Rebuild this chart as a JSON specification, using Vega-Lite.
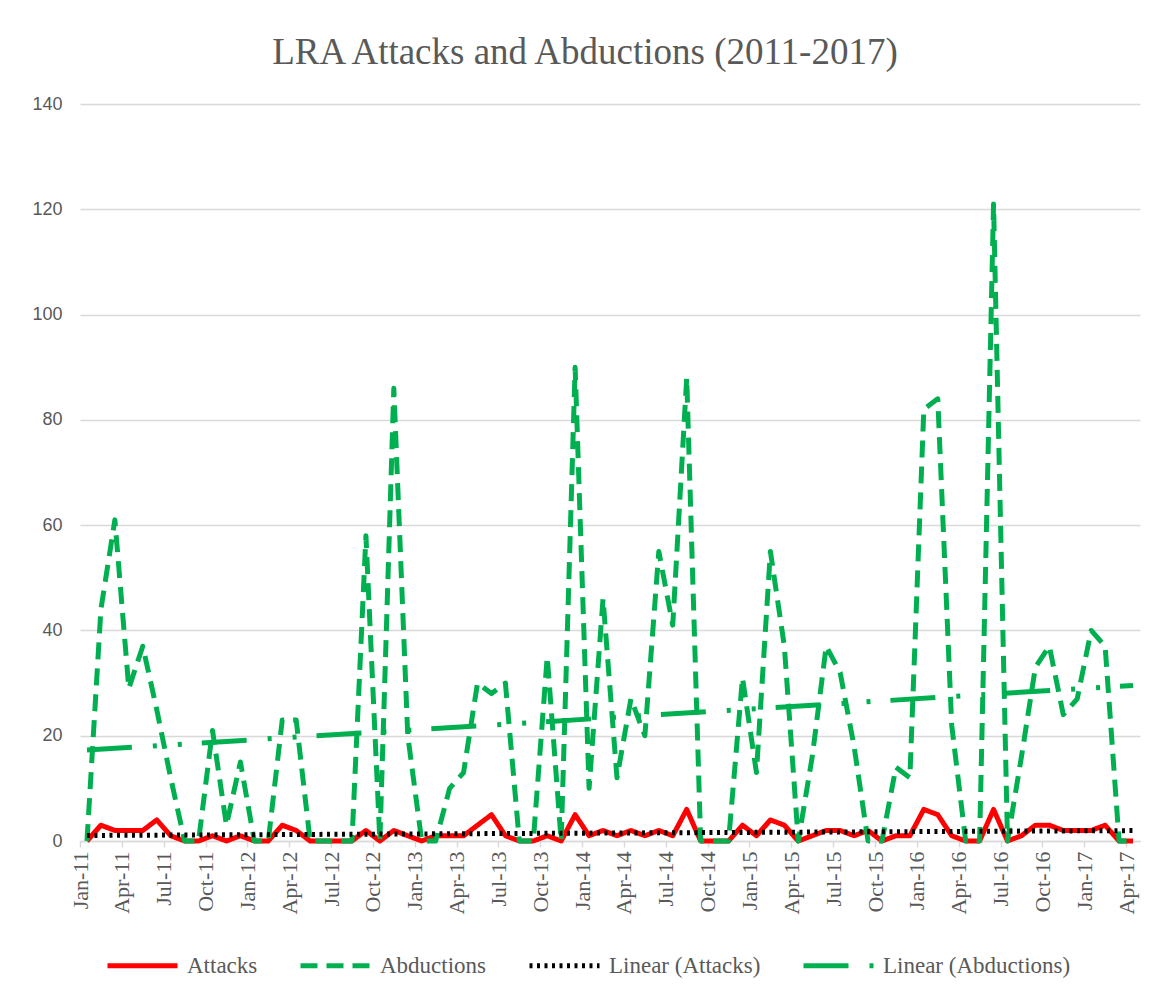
{
  "$schema": "https://vega.github.io/schema/vega-lite/v6.json",
  "width": 1060,
  "height": 737,
  "padding": {"left": 20, "top": 34, "right": 21, "bottom": 0},
  "background": "white",
  "title": {"text": "LRA Attacks and Abductions (2011-2017)", "font": "Liberation Serif", "fontSize": 37, "fontWeight": "normal", "color": "#595959", "anchor": "middle", "offset": 23, "dx": -25},
  "data": {"values": [
    {"m":0,"Attacks":0,"Abductions":0},{"m":1,"Attacks":3,"Abductions":44},{"m":2,"Attacks":2,"Abductions":61},{"m":3,"Attacks":2,"Abductions":29},{"m":4,"Attacks":2,"Abductions":37},{"m":5,"Attacks":4,"Abductions":25},{"m":6,"Attacks":1,"Abductions":12},{"m":7,"Attacks":0,"Abductions":0},{"m":8,"Attacks":0,"Abductions":0},{"m":9,"Attacks":1,"Abductions":21},
    {"m":10,"Attacks":0,"Abductions":3},{"m":11,"Attacks":1,"Abductions":15},{"m":12,"Attacks":0,"Abductions":0},{"m":13,"Attacks":0,"Abductions":0},{"m":14,"Attacks":3,"Abductions":23},{"m":15,"Attacks":2,"Abductions":23},{"m":16,"Attacks":0,"Abductions":0},{"m":17,"Attacks":0,"Abductions":0},{"m":18,"Attacks":0,"Abductions":0},{"m":19,"Attacks":0,"Abductions":0},
    {"m":20,"Attacks":2,"Abductions":58},{"m":21,"Attacks":0,"Abductions":0},{"m":22,"Attacks":2,"Abductions":86},{"m":23,"Attacks":1,"Abductions":20},{"m":24,"Attacks":0,"Abductions":0},{"m":25,"Attacks":1,"Abductions":0},{"m":26,"Attacks":1,"Abductions":10},{"m":27,"Attacks":1,"Abductions":13},{"m":28,"Attacks":3,"Abductions":30},{"m":29,"Attacks":5,"Abductions":28},
    {"m":30,"Attacks":1,"Abductions":30},{"m":31,"Attacks":0,"Abductions":0},{"m":32,"Attacks":0,"Abductions":0},{"m":33,"Attacks":1,"Abductions":35},{"m":34,"Attacks":0,"Abductions":0},{"m":35,"Attacks":5,"Abductions":90},{"m":36,"Attacks":1,"Abductions":10},{"m":37,"Attacks":2,"Abductions":46},{"m":38,"Attacks":1,"Abductions":12},{"m":39,"Attacks":2,"Abductions":27},
    {"m":40,"Attacks":1,"Abductions":20},{"m":41,"Attacks":2,"Abductions":55},{"m":42,"Attacks":1,"Abductions":41},{"m":43,"Attacks":6,"Abductions":88},{"m":44,"Attacks":0,"Abductions":0},{"m":45,"Attacks":0,"Abductions":0},{"m":46,"Attacks":0,"Abductions":0},{"m":47,"Attacks":3,"Abductions":31},{"m":48,"Attacks":1,"Abductions":13},{"m":49,"Attacks":4,"Abductions":55},
    {"m":50,"Attacks":3,"Abductions":37},{"m":51,"Attacks":0,"Abductions":0},{"m":52,"Attacks":1,"Abductions":16},{"m":53,"Attacks":2,"Abductions":37},{"m":54,"Attacks":2,"Abductions":32},{"m":55,"Attacks":1,"Abductions":18},{"m":56,"Attacks":2,"Abductions":0},{"m":57,"Attacks":0,"Abductions":0},{"m":58,"Attacks":1,"Abductions":14},{"m":59,"Attacks":1,"Abductions":12},
    {"m":60,"Attacks":6,"Abductions":82},{"m":61,"Attacks":5,"Abductions":84},{"m":62,"Attacks":1,"Abductions":22},{"m":63,"Attacks":0,"Abductions":0},{"m":64,"Attacks":0,"Abductions":0},{"m":65,"Attacks":6,"Abductions":121},{"m":66,"Attacks":0,"Abductions":0},{"m":67,"Attacks":1,"Abductions":16},{"m":68,"Attacks":3,"Abductions":33},{"m":69,"Attacks":3,"Abductions":37},
    {"m":70,"Attacks":2,"Abductions":24},{"m":71,"Attacks":2,"Abductions":27},{"m":72,"Attacks":2,"Abductions":40},{"m":73,"Attacks":3,"Abductions":37},{"m":74,"Attacks":0,"Abductions":0},{"m":75,"Attacks":0,"Abductions":0}
  ]},
  "encoding": {
    "x": {"field": "m", "type": "quantitative", "title": null,
      "scale": {"domain": [-0.5, 75.5], "nice": false, "zero": false},
      "axis": {"values": [0,3,6,9,12,15,18,21,24,27,30,33,36,39,42,45,48,51,54,57,60,63,66,69,72,75],
        "labelExpr": "['Jan','Apr','Jul','Oct'][(datum.value/3)%4] + '-' + (11 + floor(datum.value/12))",
        "labelAngle": -90, "labelAlign": "right", "labelBaseline": "middle", "labelFont": "Liberation Serif", "labelFontSize": 22, "labelColor": "#595959",
        "labelPadding": 4, "labelFlush": false, "labelOverlap": false, "labelBound": false,
        "domainColor": "#D9D9D9", "domainWidth": 1.5, "tickColor": "#D9D9D9", "tickWidth": 1.5, "tickSize": 6, "tickOffset": -6.97, "grid": false}}
  },
  "layer": [
    {"mark": {"type": "line", "strokeJoin": "round"},
     "encoding": {
       "y": {"field": "Attacks", "type": "quantitative", "title": null, "scale": {"domain": [0, 140], "nice": false}, "axis": {"values": [0,20,40,60,80,100,120,140], "labelFont": "Liberation Sans", "labelFontSize": 18, "labelColor": "#595959"}},
       "color": {"datum": "Attacks", "type": "ordinal", "scale": {"domain": ["Attacks","Abductions","Linear (Attacks)","Linear (Abductions)"], "range": ["#FF0000","#00B050","#000000","#00B050"]},
         "legend": {"orient": "none", "legendX": 25, "legendY": 824, "direction": "horizontal", "title": null, "symbolType": "stroke", "symbolSize": 4900, "labelFont": "Liberation Serif", "labelFontSize": 23, "labelColor": "#595959", "labelLimit": 500, "columnPadding": 32, "labelOffset": 7}},
       "strokeDash": {"datum": "Attacks", "type": "ordinal", "scale": {"domain": ["Attacks","Abductions","Linear (Attacks)","Linear (Abductions)"], "range": [[1,0],[17,9],[3,4.5],[45,21,4,21,4,20]]},
         "legend": {"orient": "none", "legendX": 25, "legendY": 824, "direction": "horizontal", "title": null, "symbolType": "stroke", "symbolSize": 4900, "labelFont": "Liberation Serif", "labelFontSize": 23, "labelColor": "#595959", "labelLimit": 500, "columnPadding": 32, "labelOffset": 7}},
       "strokeWidth": {"datum": "Attacks", "type": "ordinal", "scale": {"domain": ["Attacks","Abductions","Linear (Attacks)","Linear (Abductions)"], "range": [5,5,3,5.5]},
         "legend": {"orient": "none", "legendX": 25, "legendY": 824, "direction": "horizontal", "title": null, "symbolType": "stroke", "symbolSize": 4900, "labelFont": "Liberation Serif", "labelFontSize": 23, "labelColor": "#595959", "labelLimit": 500, "columnPadding": 32, "labelOffset": 7}}
     }},
    {"mark": {"type": "line", "strokeJoin": "round"},
     "encoding": {
       "y": {"field": "Abductions", "type": "quantitative", "title": null, "scale": {"domain": [0, 140], "nice": false}, "axis": {"values": [0,20,40,60,80,100,120,140], "labelFont": "Liberation Sans", "labelFontSize": 18, "labelColor": "#595959"}},
       "color": {"datum": "Abductions", "type": "ordinal"},
       "strokeDash": {"datum": "Abductions", "type": "ordinal"},
       "strokeWidth": {"datum": "Abductions", "type": "ordinal"}
     }},
    {"transform": [{"regression": "Attacks", "on": "m"}],
     "mark": {"type": "line"},
     "encoding": {
       "y": {"field": "Attacks", "type": "quantitative", "title": null, "scale": {"domain": [0, 140], "nice": false}, "axis": {"values": [0,20,40,60,80,100,120,140], "labelFont": "Liberation Sans", "labelFontSize": 18, "labelColor": "#595959"}},
       "color": {"datum": "Linear (Attacks)", "type": "ordinal"},
       "strokeDash": {"datum": "Linear (Attacks)", "type": "ordinal"},
       "strokeWidth": {"datum": "Linear (Attacks)", "type": "ordinal"}
     }},
    {"transform": [{"regression": "Abductions", "on": "m"}],
     "mark": {"type": "line"},
     "encoding": {
       "y": {"field": "Abductions", "type": "quantitative", "title": null, "scale": {"domain": [0, 140], "nice": false}, "axis": {"values": [0,20,40,60,80,100,120,140], "labelFont": "Liberation Sans", "labelFontSize": 18, "labelColor": "#595959"}},
       "color": {"datum": "Linear (Abductions)", "type": "ordinal"},
       "strokeDash": {"datum": "Linear (Abductions)", "type": "ordinal"},
       "strokeWidth": {"datum": "Linear (Abductions)", "type": "ordinal"}
     }}
  ],
  "config": {
    "view": {"stroke": null},
    "style": {"guide-label": {"font": "Liberation Serif"}},
    "axisY": {"grid": true, "gridColor": "#D9D9D9", "gridWidth": 1.3, "domain": false, "ticks": false, "labelPadding": 18, "labelFont": "Liberation Sans", "labelFontSize": 18, "labelColor": "#595959", "minExtent": 60, "maxExtent": 60},
    "legend": {"labelFont": "Liberation Serif", "labelFontSize": 23, "labelColor": "#595959", "labelLimit": 500}
  }
}
